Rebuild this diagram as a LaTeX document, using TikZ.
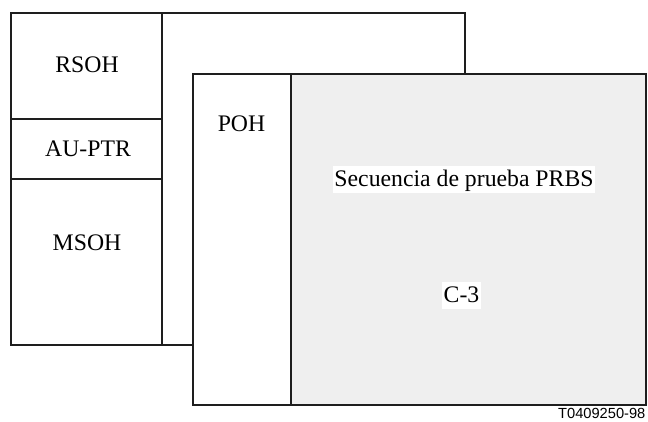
\documentclass[tikz,border=0pt]{standalone}
\usepackage{fontspec}
\setmainfont{Liberation Serif}
\newfontfamily\figfont{Liberation Sans}

\begin{document}
\begin{tikzpicture}[x=0.75pt,y=0.75pt,yscale=-1,xscale=1,
    line width=0.9pt, color={rgb,255:red,30;green,30;blue,30},
    txt/.style={inner sep=0.75pt, text=black, font=\fontsize{17.8}{21}\selectfont},
    whitetxt/.style={txt, fill=white, inner xsep=1pt, inner ysep=2pt, text height=13.5pt, text depth=3pt}]
      \useasboundingbox (0,0) rectangle (648,421);
      % back frame
      \draw    (11,13) rectangle (465,345) ;
      \draw    (162,13) -- (162,345) ;
      \draw    (11,119) -- (162,119) ;
      \draw    (11,179) -- (162,179) ;
      % front frame
      \draw [fill=white]   (193,74) rectangle (291,405) ;
      \draw [fill={rgb,255:red,239;green,239;blue,239}]   (291,74) rectangle (646,405) ;
      \node [txt] (rsoh) at (87,64.5) {RSOH};
      \node [txt] (auptr) at (88,148.5) {AU-PTR};
      \node [txt] (msoh) at (87,243) {MSOH};
      \node [txt] (poh) at (241.5,123.5) {POH};
      \node [whitetxt] (prbs) at (464,179.7) {Secuencia de prueba PRBS};
      \node [whitetxt] (cthree) at (461.5,295.7) {C-3};
      \node [anchor=base east, inner sep=0pt, text=black, font=\figfont\fontsize{11}{13}\selectfont] (fignum) at (646,418) {T0409250-98};
\end{tikzpicture}
\end{document}
